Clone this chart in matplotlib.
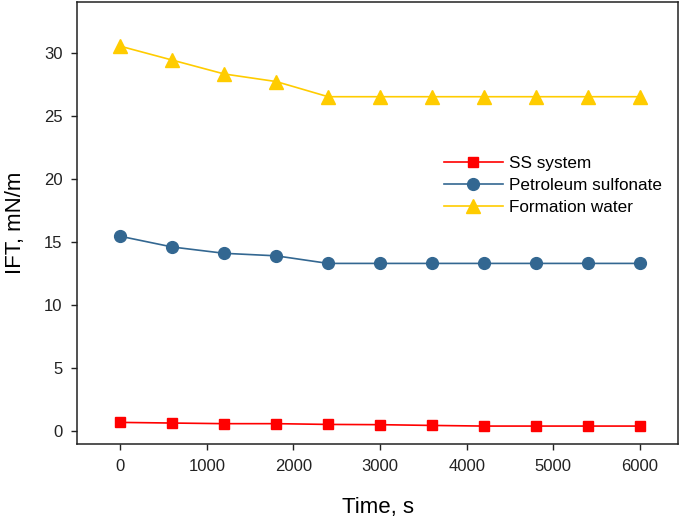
import matplotlib
matplotlib.use("Agg")
from matplotlib import pyplot as plt

# values
time_s = [0, 600, 1200, 1800, 2400, 3000, 3600, 4200, 4800, 5400, 6000]
ss_system = [0.71, 0.66, 0.61, 0.61, 0.55, 0.53, 0.47, 0.42, 0.42, 0.42, 0.42]
petroleum_sulfonate = [15.45, 14.6, 14.1, 13.9, 13.3, 13.3, 13.3, 13.3, 13.3, 13.3, 13.3]
formation_water = [30.5, 29.4, 28.3, 27.7, 26.5, 26.5, 26.5, 26.5, 26.5, 26.5, 26.5]

plt.rcParams['font.family'] = ['Liberation Sans', 'DejaVu Sans']

fig = plt.figure(figsize=(6.85, 5.23), dpi=100)
ax = fig.add_axes([77 / 685, 1 - 444 / 523, 601 / 685, 442 / 523])

ax.plot(time_s, ss_system, color='#ff0000', marker='s', markersize=7.5, linewidth=1.2, label='SS system')
ax.plot(time_s, petroleum_sulfonate, color='#336791', marker='o', markersize=8.5, linewidth=1.2, label='Petroleum sulfonate')
ax.plot(time_s, formation_water, color='#ffcc00', marker='^', markersize=10, linewidth=1.2, label='Formation water')

ax.set_xlim(-500, 6440)
ax.set_ylim(-1, 34)
ax.set_xticks(range(0, 6001, 1000))
ax.set_yticks(range(0, 31, 5))
ax.tick_params(direction='out', length=4.5, width=1, labelsize=12, colors='#222222')
ax.tick_params(axis='x', pad=6)
ax.tick_params(axis='y', pad=6)
for s in ax.spines.values():
    s.set_linewidth(1.1)
    s.set_color('#222222')

ax.set_xlabel('Time, s', fontsize=16, labelpad=17)
ax.set_ylabel('IFT, mN/m', fontsize=16, labelpad=13)

ax.legend(loc='upper left', bbox_to_anchor=(0.6, 0.666), frameon=False, fontsize=12.3,
          handlelength=3.4, labelspacing=0.4, handletextpad=0.4, borderaxespad=0)

fig.savefig('out.png', dpi=100)
